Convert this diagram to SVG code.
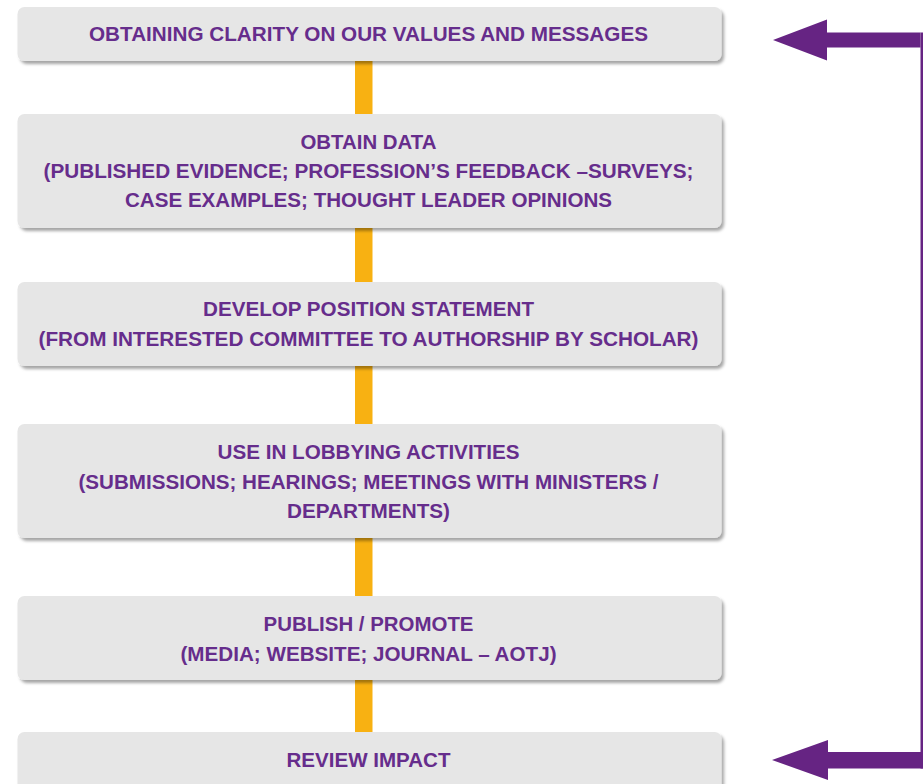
<svg xmlns="http://www.w3.org/2000/svg" width="923" height="784" viewBox="0 0 923 784">
<style>
.box{fill:#E6E6E6;filter:url(#sh);}
.t{font-family:"Liberation Sans",Arial,sans-serif;font-weight:bold;font-size:20px;fill:#662D8C;text-anchor:middle;}
.ar{fill:#662483;}
.ln{fill:#F8B112;}
</style>
<defs>
<filter id="sh" x="-5%" y="-20%" width="110%" height="150%">
<feDropShadow dx="2.5" dy="3" stdDeviation="1.6" flood-color="#000" flood-opacity="0.35"/>
</filter>
</defs>
<rect width="923" height="784" fill="#FFFFFF"/>
<g id="connectors">
<rect class="ln" x="355" y="55" width="17.5" height="685"/>
<polygon class="ar" points="773,40 827,19.5 827,32.5 920.5,32.5 920.5,47.5 827,47.5 827,60.5"/>
<rect class="ar" x="920.5" y="32.5" width="2.5" height="736"/>
<polygon class="ar" points="772,760 828,740 828,752 923,752 923,768.5 828,768.5 828,780"/>
</g>
<g id="n1">
<rect class="box" x="17.5" y="7" width="704" height="54" rx="7"/>
<text class="t" x="368.5" y="40.7" textLength="559" lengthAdjust="spacingAndGlyphs">OBTAINING CLARITY ON OUR VALUES AND MESSAGES</text>
</g>
<g id="n2">
<rect class="box" x="17.5" y="114" width="704" height="114" rx="7"/>
<text class="t" x="368.5" y="149" textLength="136" lengthAdjust="spacingAndGlyphs">OBTAIN DATA</text>
<text class="t" x="368.5" y="177.5" textLength="650" lengthAdjust="spacingAndGlyphs">(PUBLISHED EVIDENCE; PROFESSION’S FEEDBACK –SURVEYS;</text>
<text class="t" x="368.5" y="206.5" textLength="487" lengthAdjust="spacingAndGlyphs">CASE EXAMPLES; THOUGHT LEADER OPINIONS</text>
</g>
<g id="n3">
<rect class="box" x="17.5" y="282" width="704" height="84" rx="7"/>
<text class="t" x="368.5" y="316" textLength="331" lengthAdjust="spacingAndGlyphs">DEVELOP POSITION STATEMENT</text>
<text class="t" x="368.5" y="346" textLength="660" lengthAdjust="spacingAndGlyphs">(FROM INTERESTED COMMITTEE TO AUTHORSHIP BY SCHOLAR)</text>
</g>
<g id="n4">
<rect class="box" x="17.5" y="424" width="704" height="114" rx="7"/>
<text class="t" x="368.5" y="459" textLength="302" lengthAdjust="spacingAndGlyphs">USE IN LOBBYING ACTIVITIES</text>
<text class="t" x="368.5" y="489" textLength="580" lengthAdjust="spacingAndGlyphs">(SUBMISSIONS; HEARINGS; MEETINGS WITH MINISTERS /</text>
<text class="t" x="368.5" y="518" textLength="163" lengthAdjust="spacingAndGlyphs">DEPARTMENTS)</text>
</g>
<g id="n5">
<rect class="box" x="17.5" y="596" width="704" height="84" rx="7"/>
<text class="t" x="368.5" y="631" textLength="210" lengthAdjust="spacingAndGlyphs">PUBLISH / PROMOTE</text>
<text class="t" x="368.5" y="661" textLength="376" lengthAdjust="spacingAndGlyphs">(MEDIA; WEBSITE; JOURNAL – AOTJ)</text>
</g>
<g id="n6">
<rect class="box" x="17.5" y="732" width="704" height="62" rx="7"/>
<text class="t" x="368.5" y="767" textLength="164" lengthAdjust="spacingAndGlyphs">REVIEW IMPACT</text>
</g>
</svg>
